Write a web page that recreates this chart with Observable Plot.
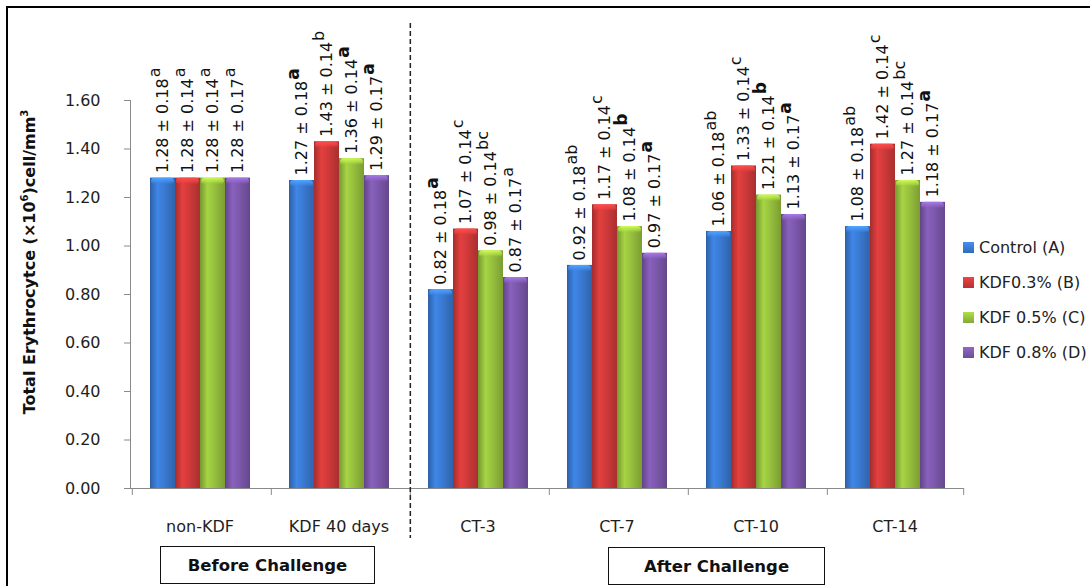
<!DOCTYPE html>
<html>
<head>
<meta charset="utf-8">
<script src="https://cdn.jsdelivr.net/npm/d3@7"></script>
<script src="https://cdn.jsdelivr.net/npm/@observablehq/plot@0.6"></script>
<style>
  body { margin: 0; background: #fff; font-family: "DejaVu Sans", sans-serif; }
  #wrap { position: relative; width: 1090px; height: 586px; overflow: hidden; background: #fff; }
  #wrap svg { position: absolute; left: 0; top: 0; }
  #wrap svg g[aria-label*="axis"] text { fill: #1e1e1e; }
  .border-top { position: absolute; left: 6px; top: 6px; right: 0; height: 0; border-top: 2.5px solid #000; }
  .border-left { position: absolute; left: 6px; top: 6px; bottom: 0; width: 0; border-left: 2px solid #000; }
  .ytitle { position: absolute; left: 29px; top: 262px; transform: translate(-50%, -50%) rotate(-90deg);
            white-space: nowrap; font-weight: bold; font-size: 16px; color: #111; }
  .ytitle sup { font-size: 10px; vertical-align: 7px; line-height: 0; }
  .legend { position: absolute; left: 963px; top: 230px; font-size: 16px; color: #222; }
  .legend .item { height: 35px; display: flex; align-items: center; white-space: nowrap; }
  .legend .sw { width: 11px; height: 11px; margin-right: 5px; }
  .box { position: absolute; border: 1.5px solid #111; box-sizing: border-box; font-weight: bold; font-size: 16.5px;
         color: #111; display: flex; align-items: center; justify-content: center; }
</style>
</head>
<body>
<div id="wrap"></div>
<script>
// ---- data ----
const categories = ["non-KDF", "KDF 40 days", "CT-3", "CT-7", "CT-10", "CT-14"];
const groups = ["Control (A)", "KDF0.3% (B)", "KDF 0.5% (C)", "KDF 0.8% (D)"];
const controlA = [1.28, 1.27, 0.82, 0.92, 1.06, 1.08];
const kdf03B   = [1.28, 1.43, 1.07, 1.17, 1.33, 1.42];
const kdf05C   = [1.28, 1.36, 0.98, 1.08, 1.21, 1.27];
const kdf08D   = [1.28, 1.29, 0.87, 0.97, 1.13, 1.18];
const sdValues = [0.18, 0.14, 0.14, 0.17];
const lettersA = ["a", "a", "a", "ab", "ab", "ab"];
const lettersB = ["a", "b", "c", "c", "c", "c"];
const lettersC = ["a", "a", "bc", "b", "b", "bc"];
const lettersD = ["a", "a", "a", "a", "a", "a"];
const boldA = [false, true, true, false, false, false];
const boldB = [false, false, false, false, false, false];
const boldC = [false, true, false, true, true, false];
const boldD = [false, true, false, true, true, true];
const yTicks = [0, 0.2, 0.4, 0.6, 0.8, 1.0, 1.2, 1.4, 1.6];
const dividerAt = "CT-3";
const periodLabels = ["Before Challenge", "After Challenge"];
const yTitleHTML = "Total Erythrocytce (×10<sup>6</sup>)cell/mm<sup>3</sup>";

// ---- styling ----
const colors = ["#3a7bd3", "#d13a3a", "#98c23e", "#7d59ad"];

const seriesValues = [controlA, kdf03B, kdf05C, kdf08D];
const seriesLetters = [lettersA, lettersB, lettersC, lettersD];
const seriesBold = [boldA, boldB, boldC, boldD];

const data = [];
categories.forEach((cat, i) => groups.forEach((g, j) => data.push({
  cat, group: g, value: seriesValues[j][i], sd: sdValues[j],
  letter: seriesLetters[j][i], bold: seriesBold[j][i]
})));

// ---- layout ----
const W = 1090, H = 586, mL = 129, mR = 125, mT = 100, mB = 98;
const po = 0.68;
const facetW = (W - mL - mR) / categories.length;
const step = facetW / (groups.length + 2 * po);
const edge = step * po + step / 2;

const labelFont = 16;
const ctx = document.createElement("canvas").getContext("2d");
ctx.font = `${labelFont}px "DejaVu Sans"`;
const labelText = d => `${d.value.toFixed(2)} ± ${d.sd.toFixed(2)}`;
const labelW = ctx.measureText(labelText(data[0])).width;

const gradId = j => `bargrad${j}`;
const capId = j => `capgrad${j}`;

const chart = Plot.plot({
  width: W, height: H,
  marginLeft: mL, marginRight: mR, marginTop: mT, marginBottom: mB,
  style: { fontFamily: "DejaVu Sans", fontSize: "16px", color: "#8a8a8a", background: "transparent", overflow: "visible" },
  fx: { domain: categories, padding: 0, axis: "bottom", label: null, tickSize: 0, tickPadding: 32 },
  x: { domain: groups, paddingInner: 0, paddingOuter: po, axis: null },
  y: { domain: [0, 1.6], ticks: yTicks, tickFormat: d3.format(".2f"), line: true, label: null, tickSize: 6, tickPadding: 24 },
  color: { domain: groups, range: groups.map((g, j) => `url(#${gradId(j)})`) },
  marks: [
    Plot.barY(data, { fx: "cat", x: "group", y: "value", fill: "group" }),
    Plot.barY(data, { fx: "cat", x: "group", y1: "value", y2: "value", insetBottom: -7, insetLeft: 1, insetRight: 1,
      rx: 4, fill: d => `url(#${capId(groups.indexOf(d.group))})` }),
    Plot.ruleY([0], { stroke: "#8a8a8a" }),
    Plot.ruleX(categories, { fx: d => d, x: () => groups[0], dx: -edge, y1: 0, y2: 0, insetBottom: -7, stroke: "#8a8a8a" }),
    Plot.ruleX(categories.slice(-1), { fx: d => d, x: () => groups[groups.length - 1], dx: edge, y1: 0, y2: 0, insetBottom: -7, stroke: "#8a8a8a" }),
    Plot.ruleX([dividerAt], { fx: d => d, x: () => groups[0], dx: -edge, insetTop: -77, insetBottom: -50,
      stroke: "#222", strokeWidth: 1.5, strokeDasharray: "5,3" }),
    Plot.text(data, { fx: "cat", x: "group", y: "value", text: labelText, rotate: -90,
      textAnchor: "start", lineAnchor: "middle", dy: -5, fontSize: labelFont, fill: "#111" }),
    Plot.text(data.filter(d => !d.bold), { fx: "cat", x: "group", y: "value", text: "letter", rotate: -90,
      textAnchor: "start", lineAnchor: "middle", dy: -(5 + labelW + 1), dx: -8, fontSize: labelFont, fill: "#111" }),
    Plot.text(data.filter(d => d.bold), { fx: "cat", x: "group", y: "value", text: "letter", rotate: -90,
      textAnchor: "start", lineAnchor: "middle", dy: -(5 + labelW + 1), dx: -8, fontSize: labelFont + 1, fontWeight: "bold", fill: "#111" })
  ]
});

// gradients for the cylinder look
const NS = "http://www.w3.org/2000/svg";
const defs = document.createElementNS(NS, "defs");
function addGrad(id, stops, vertical) {
  const lg = document.createElementNS(NS, "linearGradient");
  lg.setAttribute("id", id);
  lg.setAttribute("x1", "0"); lg.setAttribute("y1", "0");
  lg.setAttribute("x2", vertical ? "0" : "1"); lg.setAttribute("y2", vertical ? "1" : "0");
  stops.forEach(([o, col, op]) => {
    const s = document.createElementNS(NS, "stop");
    s.setAttribute("offset", o);
    s.setAttribute("stop-color", col.formatHex());
    if (op != null) s.setAttribute("stop-opacity", op);
    lg.appendChild(s);
  });
  defs.appendChild(lg);
}
colors.forEach((c, j) => {
  const base = d3.color(c);
  addGrad(gradId(j), [[0, base.darker(0.7)], [0.3, base.brighter(0.25)], [0.55, base], [1, base.darker(0.6)]]);
  addGrad(capId(j), [[0, base.brighter(0.9), 0.95], [0.6, base.brighter(0.5), 0.6], [1, base, 0]], true);
});
chart.insertBefore(defs, chart.firstChild);

const wrap = document.getElementById("wrap");
wrap.appendChild(chart);

// frame lines
const bt = document.createElement("div"); bt.className = "border-top"; wrap.appendChild(bt);
const bl = document.createElement("div"); bl.className = "border-left"; wrap.appendChild(bl);

// y title
const yt = document.createElement("div"); yt.className = "ytitle"; yt.innerHTML = yTitleHTML; wrap.appendChild(yt);

// legend
const lg = document.createElement("div"); lg.className = "legend";
groups.forEach((g, j) => {
  const it = document.createElement("div"); it.className = "item";
  const sw = document.createElement("span"); sw.className = "sw";
  const base = d3.color(colors[j]);
  sw.style.background = `linear-gradient(180deg, ${base.brighter(0.4).formatHex()}, ${base.darker(0.4).formatHex()})`;
  const tx = document.createElement("span"); tx.textContent = g;
  it.appendChild(sw); it.appendChild(tx); lg.appendChild(it);
});
wrap.appendChild(lg);

// period boxes
const boxes = [[160, 546, 215, 38], [608, 547, 217, 38]];
periodLabels.forEach((t, k) => {
  const b = document.createElement("div"); b.className = "box";
  const [l, tp, w, h] = boxes[k];
  Object.assign(b.style, { left: l + "px", top: tp + "px", width: w + "px", height: h + "px" });
  b.textContent = t;
  wrap.appendChild(b);
});
</script>
</body>
</html>
